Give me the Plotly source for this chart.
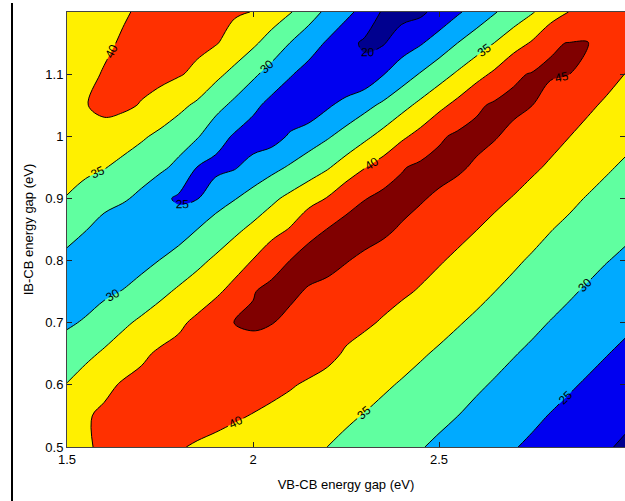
import plotly.graph_objects as go

# VB-CB energy gap (eV) grid, IB-CB energy gap (eV) grid
vb_cb_gap = [1.50, 1.55, 1.60, 1.65, 1.70, 1.75, 1.80, 1.85, 1.90, 1.95, 2.00,
             2.05, 2.10, 2.15, 2.20, 2.25, 2.30, 2.35, 2.40, 2.45, 2.50,
             2.55, 2.60, 2.65, 2.70, 2.75, 2.80, 2.85, 2.90, 2.95, 3.00]
ib_cb_gap = [0.50, 0.55, 0.60, 0.65, 0.70, 0.75, 0.80, 0.85, 0.90, 0.95,
             1.00, 1.05, 1.10, 1.15, 1.20]

# efficiency (%), one row per IB-CB gap value
eff_050 = [38.5, 39.6, 40.6, 41.2, 41.4, 41.2, 40.3, 39.57, 38.92, 38.26, 37.6, 36.95, 36.29, 35.64, 34.99, 34.05, 33.1, 32.15, 31.2, 30.24, 29.25, 28.25, 27.25, 26.25, 25.25, 24.28, 23.32, 22.37, 21.4, 20.44, 19.3]
eff_055 = [38.3, 39.5, 40.9, 41.2, 41.7, 42.0, 42.0, 41.7, 41.2, 40.5, 39.8, 38.97, 38.14, 37.31, 36.48, 35.65, 34.8, 33.84, 32.88, 31.92, 30.96, 30.02, 28.96, 27.92, 26.88, 25.84, 24.8, 23.85, 22.9, 21.94, 21.0]
eff_060 = [35.2, 37.08, 38.84, 40.5, 41.3, 41.9, 42.3, 42.5, 42.5, 42.3, 41.9, 41.3, 40.4, 39.36, 38.42, 37.48, 36.53, 35.59, 34.63, 33.63, 32.62, 31.62, 30.62, 29.61, 28.58, 27.55, 26.52, 25.49, 24.5, 23.6, 22.7]
eff_065 = [32.1, 33.94, 35.63, 37.4, 39.18, 40.7, 41.5, 42.2, 42.8, 43.3, 43.6, 43.6, 43.2, 42.4, 41.2, 39.5, 38.49, 37.48, 36.48, 35.47, 34.44, 33.39, 32.34, 31.29, 30.24, 29.22, 28.2, 27.18, 26.16, 25.14, 24.2]
eff_070 = [29.4, 30.45, 32.29, 34.14, 35.87, 37.51, 39.15, 41.0, 43.0, 45.05, 45.5, 45.1, 44.26, 43.3, 42.4, 41.5, 40.6, 39.62, 38.55, 37.47, 36.4, 35.32, 34.23, 33.13, 32.02, 30.93, 29.84, 28.83, 27.82, 26.8, 25.8]
eff_075 = [27.8, 28.2, 29.1, 30.2, 32.04, 33.89, 35.7, 37.46, 39.22, 41.4, 44.8, 46.0, 45.6, 44.68, 43.86, 43.04, 42.2, 41.4, 40.58, 39.66, 38.5, 37.34, 36.18, 35.01, 33.9, 32.77, 31.65, 30.53, 29.47, 28.47, 27.5]
eff_080 = [28.8, 27.0, 26.8, 27.26, 28.4, 30.12, 31.98, 33.83, 35.8, 37.98, 40.17, 43.42, 45.05, 46.3, 46.3, 45.2, 44.19, 43.23, 42.28, 41.32, 40.36, 39.25, 38.05, 36.85, 35.66, 34.51, 33.42, 32.33, 31.24, 30.15, 29.25]
eff_085 = [31.7, 30.2, 27.67, 26.13, 25.83, 26.44, 27.84, 30.02, 32.0, 33.99, 36.05, 38.18, 40.35, 44.0, 45.1, 46.5, 46.6, 45.8, 44.51, 43.4, 42.3, 41.18, 40.08, 38.85, 37.62, 36.38, 35.14, 34.05, 32.98, 31.91, 30.9]
eff_090 = [34.8, 33.42, 32.06, 30.7, 28.82, 26.2, 24.3, 24.8, 28.15, 29.74, 31.84, 34.04, 36.15, 38.18, 40.24, 43.3, 44.86, 46.3, 46.5, 45.4, 44.26, 43.15, 42.04, 40.94, 39.79, 38.51, 37.22, 35.94, 34.72, 33.69, 32.67]
eff_095 = [36.6, 35.9, 35.2, 33.94, 32.45, 30.96, 28.85, 24.9, 23.6, 24.6, 26.79, 28.65, 30.56, 32.55, 34.55, 37.1, 39.81, 41.97, 44.67, 45.9, 46.5, 45.7, 44.34, 43.12, 41.9, 40.68, 39.42, 38.11, 36.8, 35.49, 34.4]
eff_100 = [38.7, 39.0, 38.1, 36.8, 35.6, 34.08, 32.26, 30.44, 27.0, 24.5, 22.6, 23.0, 25.59, 27.54, 29.48, 31.67, 33.96, 36.47, 39.15, 41.49, 44.32, 45.8, 46.3, 45.3, 43.91, 42.62, 41.34, 40.06, 38.77, 37.5, 36.2]
eff_105 = [39.0, 39.8, 41.2, 41.0, 39.68, 37.94, 36.2, 34.19, 31.57, 28.92, 26.22, 23.5, 21.7, 21.6, 24.3, 26.63, 28.64, 30.86, 33.5, 36.13, 38.76, 41.31, 44.2, 45.7, 46.0, 45.05, 43.41, 42.05, 40.7, 39.39, 38.1]
eff_110 = [38.6, 39.3, 40.2, 41.2, 41.6, 41.4, 40.4, 39.0, 36.16, 33.67, 30.87, 28.13, 25.41, 23.2, 21.3, 20.5, 21.5, 24.8, 27.57, 30.33, 32.99, 35.66, 38.33, 40.89, 44.3, 45.3, 45.4, 45.05, 42.78, 41.39, 39.95]
eff_115 = [38.3, 38.9, 39.5, 40.3, 41.1, 41.6, 41.6, 41.1, 40.3, 38.23, 35.84, 32.99, 29.91, 27.2, 24.45, 21.43, 19.3, 19.6, 22.73, 24.55, 27.15, 30.02, 32.56, 35.12, 37.87, 40.48, 44.67, 45.1, 45.2, 43.4, 42.0]
eff_120 = [38.0, 38.5, 39.1, 39.7, 40.4, 40.9, 41.2, 41.2, 41.0, 40.5, 39.9, 37.61, 35.34, 32.07, 28.94, 26.29, 23.29, 19.4, 18.2, 19.0, 21.71, 24.37, 27.03, 29.69, 32.16, 34.61, 37.36, 40.1, 43.0, 43.3, 42.8]

efficiency = [eff_050, eff_055, eff_060, eff_065, eff_070, eff_075, eff_080,
              eff_085, eff_090, eff_095, eff_100, eff_105, eff_110, eff_115, eff_120]

x_tick_vals = [1.5, 2, 2.5, 3]
x_tick_text = ["1.5", "2", "2.5", "3"]
y_tick_vals = [0.5, 0.6, 0.7, 0.8, 0.9, 1.0, 1.1]
y_tick_text = ["0.5", "0.6", "0.7", "0.8", "0.9", "1", "1.1"]

band_colors = ["#00008F", "#0000F0", "#00AAFF", "#60FFA0", "#FFF000", "#FF3000", "#800000"]
colorscale = []
n = len(band_colors)
for k, c in enumerate(band_colors):
    lo = 0.0 if k == 0 else (k - 0.5) / (n - 1)
    hi = 1.0 if k == n - 1 else (k + 0.5) / (n - 1)
    colorscale.append([lo, c])
    colorscale.append([hi, c])

FONT = "Liberation Sans, Arial, Helvetica, sans-serif"

fig = go.Figure(go.Contour(
    x=vb_cb_gap, y=ib_cb_gap, z=efficiency,
    contours=dict(start=20, end=45, size=5, coloring="fill", showlabels=True,
                  labelfont=dict(size=12, color="black", family=FONT)),
    colorscale=colorscale,
    line=dict(color="black", width=1, smoothing=1),
    showscale=False,
    hoverinfo="x+y+z",
))

axis_common = dict(showgrid=False, zeroline=False, showline=True, linecolor="#444",
                   linewidth=1, mirror="ticks", ticks="inside", ticklen=5,
                   tickcolor="#222", automargin=False,
                   tickfont=dict(size=13, color="black", family=FONT))

fig.update_layout(
    width=625, height=501,
    margin=dict(l=67, r=0, t=12, b=54),
    paper_bgcolor="white", plot_bgcolor="white",
    template="none",
    font=dict(family=FONT, color="black"),
    xaxis=dict(range=[1.5, 3.0], tickvals=x_tick_vals, ticktext=x_tick_text,
               title=dict(text="VB-CB energy gap (eV)", font=dict(size=13), standoff=14),
               **axis_common),
    yaxis=dict(range=[0.5, 1.2], tickvals=y_tick_vals, ticktext=y_tick_text,
               title=dict(text="IB-CB energy gap (eV)", font=dict(size=13), standoff=8),
               **axis_common),
    shapes=[dict(type="line", xref="paper", yref="paper",
                 x0=(12 - 67) / 558, x1=(12 - 67) / 558,
                 y0=(447 - 3) / 435, y1=(447 - 501) / 435,
                 line=dict(color="black", width=2))],
)

fig.write_html("out.html",
               config={"displayModeBar": False},
               post_script="document.body.style.margin='0';document.body.style.overflow='hidden';")
